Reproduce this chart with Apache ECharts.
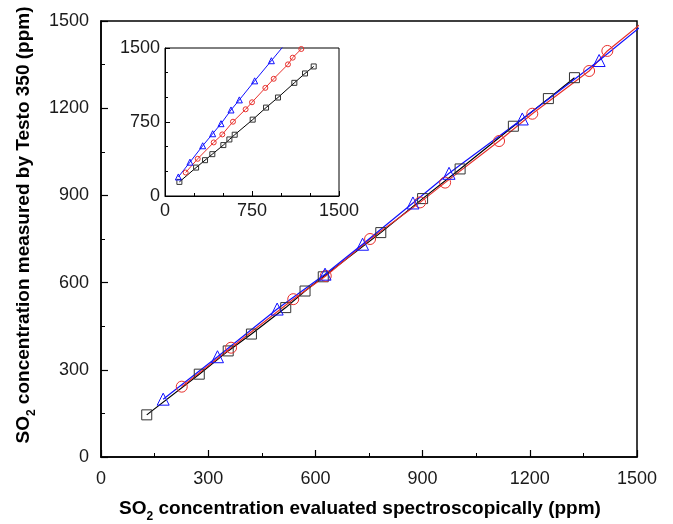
<!DOCTYPE html>
<html>
<head>
<meta charset="utf-8">
<script src="https://cdn.jsdelivr.net/npm/echarts@6/dist/echarts.min.js"></script>
<style>
  html, body { margin: 0; padding: 0; background: #fff; }
  #chart { width: 673px; height: 524px; }
</style>
</head>
<body>
<div id="chart"></div>
<script>
// main plot data (ppm)
const blackX = [128, 275, 356, 421, 517, 571, 622, 783, 900, 1005, 1154, 1252, 1325]
const blackY = [145, 285, 365, 423, 514, 571, 620, 772, 889, 991, 1138, 1233, 1305]
const redX = [226, 364, 538, 629, 753, 893, 963, 1114, 1207, 1366, 1417, 1510]
const redY = [242, 376, 543, 623, 750, 876, 944, 1087, 1181, 1328, 1397, 1490]
const blueX = [174, 326, 493, 627, 732, 873, 974, 1179, 1394, 1590]
const blueY = [199, 345, 509, 629, 732, 874, 976, 1163, 1364, 1560]

// inset data
const inBlackX = [124, 268, 345, 408, 503, 555, 601, 756, 871, 974, 1115, 1207, 1282]
const inBlackY = [143, 288, 363, 424, 516, 573, 621, 774, 896, 998, 1147, 1242, 1313]
const inRedX = [178, 282, 420, 494, 586, 695, 750, 865, 937, 1060, 1101, 1175]
const inRedY = [238, 377, 543, 624, 753, 879, 950, 1096, 1188, 1334, 1402, 1490]
const inBlueX = [115, 215, 325, 411, 483, 569, 641, 773, 917, 1050]
const inBlueY = [193, 343, 509, 631, 733, 872, 974, 1167, 1371, 1560]

const BLACK = '#000000'
const RED = '#e8302c'
const BLUE = '#1010ff'

function pairs(xs, ys) {
    return xs.map((x, i) => [x, ys[i]])
}

function makeSeries(xs, ys, color, markColor, symbol, size, idx, width) {
    return {
        type: 'line',
        xAxisIndex: idx,
        yAxisIndex: idx,
        data: pairs(xs, ys),
        symbol: symbol,
        symbolSize: size,
        showAllSymbol: true,
        clip: true,
        animation: false,
        lineStyle: { color: color, width: width },
        itemStyle: { color: 'rgba(255,255,255,0)', borderColor: markColor, borderWidth: 1 }
    }
}

const FONT = 'Liberation Sans, Arial, sans-serif'
const labelFont = { color: '#1a1a1a', fontSize: 18, fontFamily: FONT, formatter: v => String(v) }
function nameFont(padding) {
    return {
        color: '#000',
        fontSize: 19,
        fontWeight: 'bold',
        fontFamily: FONT,
        lineHeight: 28,
        padding: padding,
        rich: {
            sub: { fontSize: 12, fontWeight: 'bold', verticalAlign: 'bottom', lineHeight: 28, fontFamily: FONT }
        }
    }
}

const myChart = echarts.init(document.querySelector('#chart'))
const option = {
    backgroundColor: '#fff',
    animation: false,
    grid: [
        { left: 101, right: 36, top: 21, bottom: 67, outerBoundsMode: 'none', containLabel: false, show: true, borderColor: '#000', borderWidth: 1.5, backgroundColor: '#fff' },
        { left: 165, top: 48, width: 174, height: 148, outerBoundsMode: 'none', containLabel: false, show: true, borderColor: '#000', borderWidth: 1, backgroundColor: '#fff' }
    ],
    xAxis: [
        {
            gridIndex: 0, type: 'value', min: 0, max: 1500, interval: 300,
            name: 'SO{sub|2} concentration evaluated spectroscopically (ppm)',
            nameLocation: 'middle', nameGap: 38, nameTextStyle: nameFont([0, 18, 0, 0]),
            axisLine: { lineStyle: { color: '#000', width: 1.5 } },
            axisTick: { inside: true, length: 7, lineStyle: { color: '#000', width: 1.2 } },
            minorTick: { show: true, splitNumber: 2, length: 4, lineStyle: { color: '#000', width: 1 } },
            axisLabel: Object.assign({ margin: 13 }, labelFont),
            splitLine: { show: false }
        },
        {
            gridIndex: 1, type: 'value', min: 0, max: 1500, interval: 750,
            axisLine: { lineStyle: { color: '#000', width: 1 } },
            axisTick: { inside: true, length: 5, lineStyle: { color: '#000', width: 1 } },
            minorTick: { show: true, splitNumber: 3, length: 3, lineStyle: { color: '#000', width: 1 } },
            axisLabel: Object.assign({ margin: 6 }, labelFont),
            splitLine: { show: false }
        }
    ],
    yAxis: [
        {
            gridIndex: 0, type: 'value', min: 0, max: 1500, interval: 300,
            name: 'SO{sub|2} concentration measured by Testo 350 (ppm)',
            nameLocation: 'middle', nameGap: 63, nameRotate: 90, nameTextStyle: nameFont([0, 0, 0, 28]),
            axisLine: { show: true, lineStyle: { color: '#000', width: 1.5 } },
            axisTick: { show: true, inside: true, length: 7, lineStyle: { color: '#000', width: 1.2 } },
            minorTick: { show: true, splitNumber: 2, length: 4, lineStyle: { color: '#000', width: 1 } },
            axisLabel: Object.assign({ margin: 12 }, labelFont),
            splitLine: { show: false }
        },
        {
            gridIndex: 1, type: 'value', min: 0, max: 1500, interval: 750,
            axisLine: { show: true, lineStyle: { color: '#000', width: 1 } },
            axisTick: { show: true, inside: true, length: 5, lineStyle: { color: '#000', width: 1 } },
            minorTick: { show: true, splitNumber: 3, length: 3, lineStyle: { color: '#000', width: 1 } },
            axisLabel: Object.assign({ margin: 5 }, labelFont),
            splitLine: { show: false }
        }
    ],
    series: [
        makeSeries(blackX, blackY, BLACK, '#333', 'rect', 10, 0, 1.2),
        makeSeries(redX, redY, RED, RED, 'circle', 11, 0, 1.2),
        makeSeries(blueX, blueY, BLUE, BLUE, 'triangle', 12, 0, 1.2),
        makeSeries(inBlackX, inBlackY, BLACK, '#333', 'rect', 5, 1, 1),
        makeSeries(inRedX, inRedY, RED, RED, 'circle', 5, 1, 1),
        makeSeries(inBlueX, inBlueY, BLUE, BLUE, 'triangle', 6, 1, 1)
    ]
}
myChart.setOption(option)
window.addEventListener('resize', function () {
    myChart.resize()
})
</script>
</body>
</html>
